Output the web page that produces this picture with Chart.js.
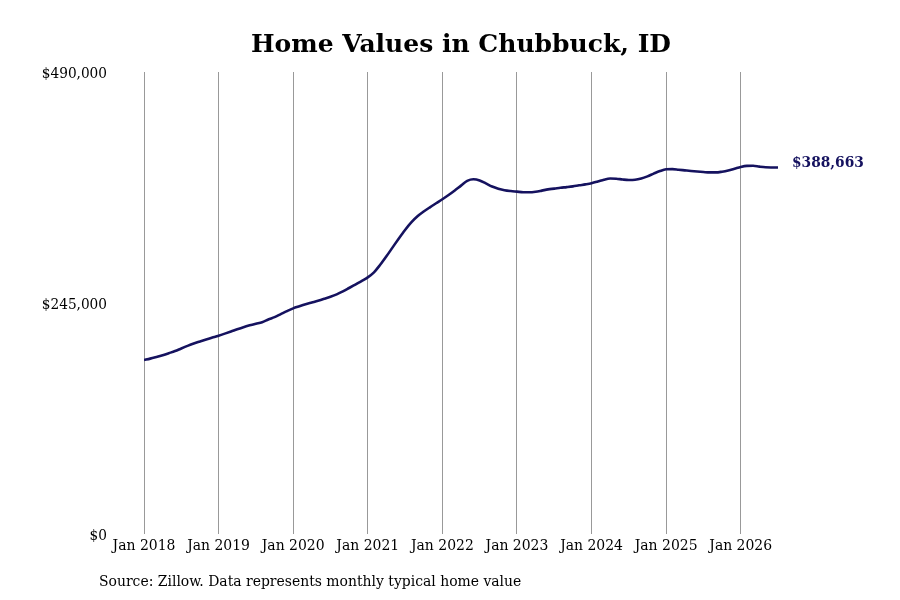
<!DOCTYPE html>
<html>
<head>
<meta charset="utf-8">
<script src="https://cdn.jsdelivr.net/npm/chart.js@4.4.1/dist/chart.umd.min.js"></script>
<style>
  html, body { margin: 0; padding: 0; background: #ffffff; }
  #c { display: block; }
</style>
</head>
<body>
<canvas id="c" width="900" height="600"></canvas>
<script>
// Months since Jan 2018 (0 = Jan 2018)
const startYear = 2018;
const homeValues = [
  // 2018
  184500, 186000, 187800, 189700, 191800, 194000, 196800, 199500, 202000, 204200, 206300, 208300,
  // 2019
  210300, 212500, 214800, 217200, 219400, 221300, 223000, 224600, 227500, 230000, 233200, 236400,
  // 2020
  239300, 241500, 243600, 245500, 247400, 249500, 251700, 254200, 257300, 260900, 264600, 268300,
  // 2021
  272200, 277500, 285500, 294500, 304000, 313500, 322500, 330500, 337000, 342000, 346500, 350800,
  // 2022
  355000, 359500, 364300, 369500, 374500, 376200, 375000, 371800, 368500, 366200, 364600, 363700,
  // 2023
  363100, 362500, 362400, 363000, 364200, 365500, 366300, 367200, 367900, 368700, 369800, 370800,
  // 2024
  372000, 373800, 375800, 377000, 376800, 376000, 375500, 375700, 377000, 379300, 382200, 384900,
  // 2025
  386800, 387000, 386400, 385700, 385000, 384400, 383900, 383500, 383500, 384300, 385600, 387400,
  // 2026
  389300, 390400, 390500, 389600, 388900, 388700, 388663
];
const xTickLabels = ["Jan 2018", "Jan 2019", "Jan 2020", "Jan 2021", "Jan 2022", "Jan 2023", "Jan 2024", "Jan 2025", "Jan 2026"];
const yTickValues = [0, 245000, 490000];
const chartTitle = "Home Values in Chubbuck, ID";
const sourceText = "Source: Zillow. Data represents monthly typical home value";

const lineColor = "#15125f";
const serifCond = "'DejaVu Serif Condensed', 'DejaVu Serif', serif";
const serif = "'DejaVu Serif', serif";

const points = homeValues.map((v, i) => ({ x: i, y: v }));
const lastIndex = homeValues.length - 1;

const fmtMoney = v => "$" + Math.round(v).toLocaleString("en-US");

const overlayPlugin = {
  id: "overlay",
  afterDraw(chart) {
    const ctx = chart.ctx;
    ctx.save();
    // Title
    ctx.fillStyle = "#000000";
    ctx.font = "bold 25px " + serif;
    ctx.textAlign = "center";
    ctx.textBaseline = "middle";
    ctx.fillText(chartTitle, 461, 45);
    // Source
    ctx.font = "15.5px " + serifCond;
    ctx.textAlign = "left";
    ctx.fillText(sourceText, 99, 582);
    // End label
    const meta = chart.getDatasetMeta(0);
    const pt = meta.data[lastIndex];
    ctx.fillStyle = lineColor;
    ctx.font = "bold 15.3px " + serifCond;
    ctx.textAlign = "left";
    ctx.fillText(fmtMoney(homeValues[lastIndex]), pt.x + 14, pt.y - 5);
    ctx.restore();
  }
};

new Chart(document.getElementById("c"), {
  type: "line",
  data: {
    datasets: [{
      data: points,
      borderColor: lineColor,
      borderWidth: 2.6,
      pointRadius: 0,
      tension: 0.4,
      cubicInterpolationMode: "monotone",
      fill: false
    }]
  },
  options: {
    responsive: false,
    animation: false,
    devicePixelRatio: 1,
    layout: { padding: { top: 72, right: 122, left: 0, bottom: 0 } },
    plugins: {
      legend: { display: false },
      tooltip: { enabled: false },
      title: { display: false }
    },
    scales: {
      x: {
        type: "linear",
        min: 0,
        max: lastIndex,
        afterBuildTicks: s => { s.ticks = xTickLabels.map((_, i) => ({ value: i * 12 })); },
        afterFit: s => { s.height = 66; },
        ticks: {
          autoSkip: false,
          maxRotation: 0,
          padding: 3,
          color: "#000000",
          font: { family: serifCond, size: 15.5 },
          callback: (v) => xTickLabels[Math.round(v / 12)]
        },
        grid: { display: true, color: "#999999", lineWidth: 1, drawTicks: false },
        border: { display: false }
      },
      y: {
        min: 0,
        max: 490000,
        afterBuildTicks: s => { s.ticks = yTickValues.map(v => ({ value: v })); },
        afterFit: s => { s.width = 144; },
        ticks: {
          padding: 37,
          labelOffset: 2,
          color: "#000000",
          font: { family: serifCond, size: 15.2 },
          callback: v => fmtMoney(v)
        },
        grid: { display: false, drawTicks: false },
        border: { display: false }
      }
    }
  },
  plugins: [overlayPlugin]
});
</script>
</body>
</html>
